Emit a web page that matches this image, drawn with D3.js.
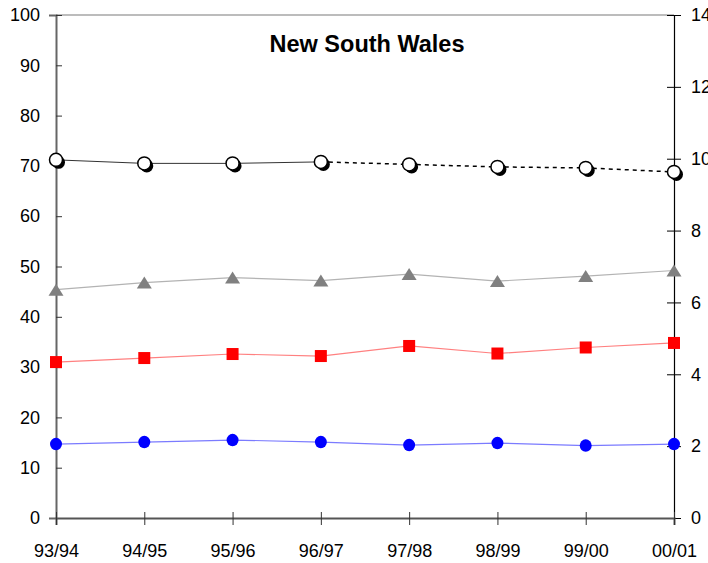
<!DOCTYPE html>
<html>
<head>
<meta charset="utf-8">
<script src="https://cdn.jsdelivr.net/npm/d3@7"></script>
<style>
  html, body { margin: 0; padding: 0; background: #fff; }
  svg { display: block; font-family: "Liberation Sans", Arial, sans-serif; }
</style>
</head>
<body>
<svg id="chart" width="708" height="563"></svg>
<script>
// Financial years along the x axis
const years = ["93/94", "94/95", "95/96", "96/97", "97/98", "98/99", "99/00", "00/01"];

// Series values (left axis scale, 0-100)
const topSeries   = [71.2, 70.5, 70.5, 70.8, 70.3, 69.8, 69.6, 68.8];
const graySeries  = [45.4, 46.8, 47.8, 47.2, 48.5, 47.1, 48.1, 49.2];
const redSeries   = [31.0, 31.8, 32.6, 32.2, 34.2, 32.7, 33.9, 34.8];
const blueSeries  = [14.7, 15.1, 15.5, 15.1, 14.5, 14.9, 14.4, 14.7];

// Index where the top series switches from solid to dotted
const dottedFrom = 3;

const leftTicks  = [0, 10, 20, 30, 40, 50, 60, 70, 80, 90, 100];
const rightTicks = [0, 2, 4, 6, 8, 10, 12, 14];

const svg = d3.select("#chart");
const plotL = 56, plotR = 674, plotT = 15, plotB = 518;
const FONT = "Liberation Sans, Arial, sans-serif";

const x = d3.scalePoint().domain(years).range([plotL, plotR]).padding(0);
const yL = d3.scaleLinear().domain([0, 100]).range([plotB, plotT]);
const yR = d3.scaleLinear().domain([0, 14]).range([plotB, plotT]);

// Plot frame: light top border
svg.append("line")
  .attr("x1", plotL).attr("x2", plotR).attr("y1", plotT).attr("y2", plotT)
  .attr("stroke", "#a6a6a6").attr("stroke-width", 1.5);

// Left axis
const gL = svg.append("g").attr("transform", `translate(${plotL},0)`)
  .call(d3.axisLeft(yL).tickValues(leftTicks).tickSize(7).tickPadding(9).tickFormat(d3.format("d")));
gL.select(".domain").attr("stroke", "#666").attr("stroke-width", 2);
gL.selectAll(".tick line").attr("stroke", "#333").attr("x2", 6);
gL.selectAll(".tick text").attr("font-size", 18).attr("fill", "#000").attr("font-family", FONT);

// Right axis
const gR = svg.append("g").attr("transform", `translate(${plotR},0)`)
  .call(d3.axisRight(yR).tickValues(rightTicks).tickSize(7).tickPadding(10).tickFormat(d3.format("d")));
gR.select(".domain").attr("stroke", "#000").attr("stroke-width", 1.2);
gR.selectAll(".tick line").attr("stroke", "#000").attr("x1", -7);
gR.selectAll(".tick text").attr("font-size", 18).attr("fill", "#000").attr("font-family", FONT);

// Bottom axis
const gB = svg.append("g").attr("transform", `translate(0,${plotB})`)
  .call(d3.axisBottom(x).tickSize(7).tickPadding(19));
gB.select(".domain").attr("stroke", "#555").attr("stroke-width", 2);
gB.selectAll(".tick line").attr("stroke", "#333").attr("y1", -6);
gB.selectAll(".tick text").attr("font-size", 18).attr("fill", "#000").attr("font-family", FONT);

// Title
svg.append("text")
  .attr("x", 367).attr("y", 52)
  .attr("text-anchor", "middle")
  .attr("font-size", 23.5).attr("font-weight", "bold")
  .text("New South Wales");

const line = d3.line().x((d, i) => x(years[i])).y(d => yL(d));
const lineSeg = (vals, from, to) =>
  d3.line().x(d => x(d.year)).y(d => yL(d.v))(
    vals.slice(from, to).map((v, k) => ({ year: years[from + k], v })));

// Blue series
svg.append("path").attr("d", line(blueSeries))
  .attr("fill", "none").attr("stroke", "#7b7bff").attr("stroke-width", 1.2);
svg.append("g").selectAll("ellipse").data(blueSeries).join("ellipse")
  .attr("cx", (d, i) => x(years[i])).attr("cy", d => yL(d))
  .attr("rx", 6).attr("ry", 6.2).attr("fill", "#0000ff");

// Red series
svg.append("path").attr("d", line(redSeries))
  .attr("fill", "none").attr("stroke", "#ff8080").attr("stroke-width", 1.2);
svg.append("g").selectAll("rect").data(redSeries).join("rect")
  .attr("x", (d, i) => x(years[i]) - 6).attr("y", d => yL(d) - 6)
  .attr("width", 12).attr("height", 12).attr("fill", "#ff0000");

// Gray series
svg.append("path").attr("d", line(graySeries))
  .attr("fill", "none").attr("stroke", "#b3b3b3").attr("stroke-width", 1.2);
svg.append("g").selectAll("path").data(graySeries).join("path")
  .attr("transform", (d, i) => `translate(${x(years[i])},${yL(d) + 1})`)
  .attr("d", "M0,-7 L7.5,5 L-7.5,5 Z").attr("fill", "#808080");

// Top series: solid then dotted
svg.append("path").attr("d", lineSeg(topSeries, 0, dottedFrom + 1))
  .attr("fill", "none").attr("stroke", "#333").attr("stroke-width", 1);
svg.append("path").attr("d", lineSeg(topSeries, dottedFrom, topSeries.length))
  .attr("fill", "none").attr("stroke", "#000").attr("stroke-width", 1.5)
  .attr("stroke-dasharray", "4,4");
const mk = svg.append("g");
mk.selectAll("circle.shadow").data(topSeries).join("circle").attr("class", "shadow")
  .attr("cx", (d, i) => x(years[i]) + 2.5).attr("cy", d => yL(d) + 2.5)
  .attr("r", 6.5).attr("fill", "#000");
mk.selectAll("circle.face").data(topSeries).join("circle").attr("class", "face")
  .attr("cx", (d, i) => x(years[i])).attr("cy", d => yL(d))
  .attr("r", 6.5).attr("fill", "#fff").attr("stroke", "#000").attr("stroke-width", 1.5);
</script>
</body>
</html>
